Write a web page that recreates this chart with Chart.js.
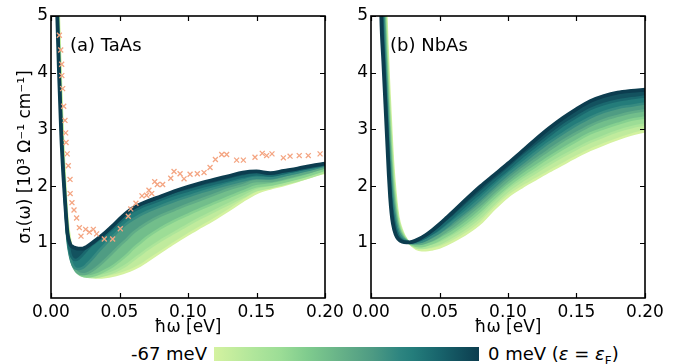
<!DOCTYPE html>
<html><head><meta charset="utf-8">
<script src="https://cdn.jsdelivr.net/npm/chart.js@4"></script>
<style>
html,body{margin:0;padding:0;background:#fff;width:679px;height:364px;overflow:hidden;font-family:"DejaVu Sans",sans-serif;}
#c1{position:absolute;left:0;top:0;width:350px;height:340px;}
#c2{position:absolute;left:340px;top:0;width:339px;height:340px;}
#cbar{position:absolute;left:214px;top:347px;width:265px;height:14px;}
.lab{position:absolute;font-size:18px;line-height:20px;color:#000;white-space:nowrap;}
</style></head><body>
<canvas id="c1" width="350" height="340"></canvas>
<canvas id="c2" width="339" height="340"></canvas>
<div id="cbar"></div>
<div class="lab" style="right:472px;top:344px;">-67 meV</div>
<div class="lab" style="left:488px;top:344px;">0 meV (<i>ε</i> = <i>ε</i><sub style="font-size:12px;">F</sub>)</div>
<script>
// ---------- tick labels ----------
const xTickValues = [0, 0.05, 0.10, 0.15, 0.20];
const yTickValues = [1, 2, 3, 4, 5];
const energies = [0, -11, -22, -33, -45, -56, -67]; // meV, dark -> light

// ---------- (a) TaAs ----------
const taasOmega = [0.003,0.0045,0.006,0.0075,0.009,0.0105,0.012,0.014,0.016,0.018,0.020,0.023,0.026,0.030,0.035,0.040,0.045,0.050,0.055,0.060,0.065,0.070,0.080,0.090,0.100,0.110,0.120,0.130,0.140,0.150,0.160,0.170,0.180,0.190,0.200];
const taasSigmaE0   = [6.8,5.05,3.9,2.9,2.2,1.65,1.18,0.98,0.93,0.91,0.90,0.90,0.93,1.00,1.09,1.19,1.30,1.42,1.53,1.62,1.68,1.73,1.82,1.91,1.99,2.06,2.12,2.18,2.24,2.26,2.23,2.27,2.31,2.36,2.40];
const taasSigmaE11  = [6.9,5.1,3.95,2.95,2.22,1.62,1.12,0.82,0.72,0.70,0.72,0.79,0.87,0.97,1.06,1.15,1.25,1.36,1.47,1.56,1.62,1.67,1.76,1.85,1.92,1.99,2.05,2.11,2.17,2.21,2.19,2.23,2.28,2.33,2.38];
const taasSigmaE22  = [7.0,5.2,4.0,3.0,2.25,1.6,1.05,0.75,0.60,0.55,0.54,0.56,0.62,0.72,0.86,0.99,1.11,1.23,1.34,1.42,1.49,1.55,1.65,1.74,1.82,1.90,1.97,2.04,2.10,2.15,2.14,2.19,2.24,2.30,2.36];
const taasSigmaE33  = [7.2,5.35,4.15,3.1,2.3,1.65,1.1,0.78,0.60,0.51,0.47,0.45,0.46,0.51,0.60,0.71,0.83,0.95,1.06,1.18,1.27,1.35,1.48,1.58,1.68,1.77,1.86,1.95,2.02,2.09,2.09,2.14,2.20,2.26,2.33];
const taasSigmaE45  = [7.4,5.5,4.3,3.25,2.4,1.75,1.2,0.86,0.64,0.52,0.46,0.42,0.41,0.42,0.46,0.52,0.59,0.68,0.78,0.90,1.00,1.10,1.26,1.39,1.50,1.61,1.71,1.81,1.91,2.00,2.03,2.08,2.14,2.21,2.29];
const taasSigmaE56  = [7.7,5.75,4.55,3.45,2.55,1.85,1.32,0.95,0.72,0.57,0.49,0.43,0.41,0.40,0.41,0.44,0.48,0.54,0.61,0.70,0.79,0.88,1.04,1.18,1.32,1.45,1.57,1.69,1.81,1.93,1.98,2.04,2.10,2.17,2.25];
const taasSigmaE67  = [8.0,6.0,4.8,3.65,2.7,1.98,1.42,1.05,0.80,0.64,0.54,0.46,0.42,0.40,0.39,0.40,0.42,0.45,0.49,0.54,0.60,0.68,0.84,1.00,1.15,1.29,1.43,1.58,1.74,1.88,1.96,2.02,2.09,2.17,2.24];

// experiment (crosses)
const expOmega = [0.0061,0.0071,0.0078,0.0079,0.0085,0.0093,0.0102,0.0107,0.0110,0.0118,0.0126,0.0139,0.0140,0.0153,0.0168,0.0187,0.0207,0.0219,0.0253,0.0280,0.0309,0.0333,0.0389,0.0450,0.0506,0.0564,0.0582,0.0620,0.0664,0.0698,0.0715,0.0735,0.0757,0.0776,0.0815,0.0874,0.0898,0.0942,0.0971,0.1015,0.1068,0.1117,0.1161,0.1200,0.1246,0.1282,0.1355,0.1404,0.1489,0.1542,0.1574,0.1613,0.1696,0.1745,0.1812,0.1878,0.1964];
const expSigma = [4.66,4.40,4.15,3.95,3.72,3.41,3.16,2.94,2.77,2.57,2.36,2.12,1.87,1.71,1.58,1.44,1.27,1.12,1.24,1.19,1.24,1.16,1.07,1.07,1.25,1.47,1.60,1.70,1.83,1.84,1.93,1.87,2.08,2.03,2.03,2.14,2.26,2.22,2.13,2.21,2.22,2.24,2.33,2.47,2.56,2.56,2.46,2.46,2.51,2.58,2.54,2.57,2.50,2.53,2.54,2.54,2.57];

// ---------- (b) NbAs ----------
const nbasOmega = [0.005,0.0075,0.009,0.010,0.011,0.012,0.013,0.014,0.015,0.016,0.018,0.020,0.023,0.026,0.030,0.035,0.040,0.045,0.050,0.055,0.060,0.070,0.080,0.090,0.100,0.110,0.120,0.130,0.140,0.150,0.160,0.170,0.180,0.190,0.200];
const nbasSigmaE0  = [8.5,5.0,4.2,3.7,3.2,2.7,2.2,1.8,1.52,1.34,1.15,1.07,1.02,1.01,1.02,1.07,1.14,1.23,1.33,1.44,1.55,1.78,2.00,2.20,2.40,2.61,2.82,3.02,3.20,3.36,3.50,3.59,3.65,3.68,3.70];
const nbasSigmaE11 = [9.4,5.6,4.6,4.07,3.53,3.0,2.48,2.07,1.75,1.53,1.27,1.13,1.05,1.02,1.01,1.04,1.10,1.17,1.26,1.36,1.46,1.68,1.89,2.10,2.30,2.51,2.70,2.89,3.07,3.22,3.36,3.45,3.51,3.55,3.58];
const nbasSigmaE22 = [10.3,6.2,5.1,4.43,3.85,3.3,2.77,2.33,1.98,1.71,1.38,1.20,1.08,1.03,1.00,1.01,1.05,1.12,1.19,1.28,1.38,1.57,1.78,2.00,2.21,2.40,2.59,2.77,2.93,3.08,3.21,3.31,3.38,3.42,3.46];
const nbasSigmaE33 = [11.3,6.8,5.5,4.8,4.18,3.6,3.05,2.6,2.21,1.90,1.50,1.26,1.11,1.04,0.99,0.98,1.01,1.06,1.13,1.21,1.29,1.48,1.68,1.90,2.11,2.30,2.47,2.64,2.80,2.94,3.07,3.17,3.24,3.30,3.34];
const nbasSigmaE45 = [12.2,7.3,5.9,5.17,4.5,3.9,3.33,2.87,2.44,2.08,1.62,1.32,1.14,1.04,0.97,0.94,0.96,1.00,1.06,1.13,1.20,1.37,1.57,1.80,2.01,2.19,2.35,2.51,2.66,2.80,2.93,3.02,3.10,3.17,3.21];
const nbasSigmaE56 = [13.1,7.9,6.4,5.53,4.83,4.2,3.62,3.13,2.67,2.27,1.73,1.39,1.17,1.05,0.96,0.91,0.92,0.95,0.99,1.05,1.12,1.27,1.46,1.70,1.92,2.09,2.24,2.39,2.53,2.66,2.78,2.88,2.97,3.04,3.09];
const nbasSigmaE67 = [14.0,8.5,6.8,5.9,5.15,4.5,3.9,3.4,2.9,2.45,1.85,1.45,1.20,1.06,0.95,0.88,0.87,0.89,0.92,0.97,1.03,1.17,1.35,1.60,1.82,1.98,2.12,2.26,2.39,2.52,2.64,2.74,2.83,2.91,2.97];

// ---------- colormap (style) ----------
const CMAP = [[0,'#d4f2a0'],[0.15,'#b0e69b'],[0.25,'#9cdd96'],[0.35,'#80cc8e'],[0.5,'#62ad87'],[0.6,'#4d9a83'],[0.7,'#2e8580'],[0.75,'#247d7b'],[0.85,'#18646c'],[1,'#0c3d4f']];
function hex2rgb(h){return [parseInt(h.slice(1,3),16),parseInt(h.slice(3,5),16),parseInt(h.slice(5,7),16)];}
function cmap(t){
  t=Math.max(0,Math.min(1,t));
  for(let i=0;i<CMAP.length-1;i++){
    const [t0,c0]=CMAP[i],[t1,c1]=CMAP[i+1];
    if(t<=t1){const f=(t-t0)/(t1-t0);const a=hex2rgb(c0),b=hex2rgb(c1);
      return 'rgb('+a.map((v,k)=>Math.round(v+(b[k]-v)*f)).join(',')+')';}
  }
  return CMAP[CMAP.length-1][1];
}
document.getElementById('cbar').style.background='linear-gradient(to right,'+CMAP.map(s=>s[1]+' '+(s[0]*100)+'%').join(',')+')';

Chart.defaults.font.family='"DejaVu Sans", sans-serif';
Chart.defaults.font.size=17;
Chart.defaults.color='#000';

function curveDatasets(omega, sigmas){
  const tOf=e=>(e+67)/67;
  return sigmas.map((arr,i)=>{
    const t=tOf(energies[i]);
    const tPrev=i>0?tOf(energies[i-1]):t;
    return {
      type:'line',
      data:omega.map((x,k)=>({x:x,y:arr[k]})),
      borderColor:cmap(t),
      borderWidth:i===0?3.8:2.5,
      pointRadius:0,
      cubicInterpolationMode:'monotone',
      fill:i===0?false:'-1',
      backgroundColor:cmap((t+tPrev)/2)
    };
  });
}

const framePlugin={
  id:'frame',
  afterDraw(chart,args,opts){
    const {ctx,chartArea:a,scales:{x,y}}=chart;
    ctx.save();
    ctx.strokeStyle='#000';
    ctx.lineWidth=1.2;
    const L=5;
    ctx.beginPath();
    xTickValues.forEach(v=>{const p=Math.round(x.getPixelForValue(v))+0.5;
      ctx.moveTo(p,a.bottom);ctx.lineTo(p,a.bottom-L);ctx.moveTo(p,a.top);ctx.lineTo(p,a.top+L);});
    yTickValues.forEach(v=>{const p=Math.round(y.getPixelForValue(v))+0.5;
      ctx.moveTo(a.left,p);ctx.lineTo(a.left+L,p);ctx.moveTo(a.right,p);ctx.lineTo(a.right-L,p);});
    ctx.stroke();
    ctx.lineWidth=1.6;
    ctx.strokeRect(a.left,a.top,a.right-a.left,a.bottom-a.top);
    ctx.fillStyle='#000';
    ctx.font='18px "DejaVu Sans"';
    ctx.textBaseline='middle';
    ctx.textAlign='left';
    ctx.fillText(opts.label,a.left+19,46);
    ctx.restore();
  }
};

function makeChart(id,datasets,label,yAxisWidth,padRight,showYTitle){
  return new Chart(document.getElementById(id),{
    type:'line',
    data:{datasets:datasets},
    options:{
      responsive:false,animation:false,devicePixelRatio:1,
      layout:{padding:{left:0,right:padRight,top:16,bottom:0}},
      plugins:{legend:{display:false},tooltip:{enabled:false},frame:{label:label}},
      scales:{
        x:{type:'linear',min:0,max:0.2,
          afterBuildTicks:s=>{s.ticks=xTickValues.map(v=>({value:v}));},
          afterFit:s=>{s.height=42;},
          grid:{display:false,drawTicks:false},border:{display:false},
          ticks:{padding:4,autoSkip:false,maxRotation:0,callback:v=>Number(v).toFixed(2)},
          title:{display:true,text:'ħω [eV]',padding:{top:0,bottom:2}}},
        y:{type:'linear',min:0.03,max:5,
          afterBuildTicks:s=>{s.ticks=yTickValues.map(v=>({value:v}));},
          afterFit:s=>{s.width=yAxisWidth;},
          grid:{display:false,drawTicks:false},border:{display:false},
          ticks:{padding:3,callback:v=>String(v)},
          title:{display:showYTitle,text:'σ₁(ω) [10³ Ω⁻¹ cm⁻¹]',padding:{top:15,bottom:0}}}
      }
    },
    plugins:[framePlugin]
  });
}

const expData={type:'scatter',data:expOmega.map((x,i)=>({x:x,y:expSigma[i]})),showLine:false,
  pointStyle:'crossRot',pointRadius:3.5,borderColor:'#f4a582',backgroundColor:'#f4a582',borderWidth:1.3,fill:false};

makeChart('c1',[expData].concat(curveDatasets(taasOmega,[taasSigmaE0,taasSigmaE11,taasSigmaE22,taasSigmaE33,taasSigmaE45,taasSigmaE56,taasSigmaE67])),'(a) TaAs',51,25,true);
makeChart('c2',curveDatasets(nbasOmega,[nbasSigmaE0,nbasSigmaE11,nbasSigmaE22,nbasSigmaE33,nbasSigmaE45,nbasSigmaE56,nbasSigmaE67]),'(b) NbAs',31,34,false);
</script>
</body></html>
